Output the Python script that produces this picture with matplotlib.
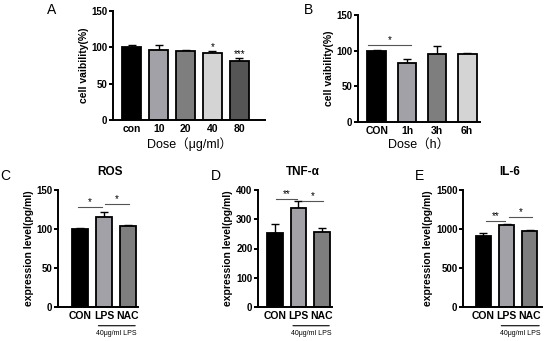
import matplotlib.pyplot as plt
import numpy as np

plt.rcParams['font.family'] = ['Liberation Sans', 'Noto Sans CJK SC', 'DejaVu Sans']

# panel A
a_labels = ['con', '10', '20', '40', '80']
a_vals = [100, 97, 95, 92, 81]
a_err = [3, 6, 1.5, 3.5, 5]
a_stars = ['', '', '', '*', '***']
# panel B
b_labels = ['CON', '1h', '3h', '6h']
b_vals = [100, 83, 95, 96]
b_err = [1, 6, 12, 1]
# panels C-E
cde_labels = ['CON', 'LPS', 'NAC']
ros_vals = [100, 116, 104]
ros_err = [1, 6, 1.5]
tnf_vals = [252, 340, 258]
tnf_err = [33, 22, 12]
il6_vals = [910, 1050, 980]
il6_err = [40, 20, 8]

c4 = ['#000000', '#a2a1a8', '#7e7e7e', '#d4d4d4', '#555555']

W, H = 550, 341
fig = plt.figure(figsize=(5.5, 3.41), dpi=100)


def make_ax(x0, x1, ytop, ybot):
    return fig.add_axes([x0 / W, 1 - ybot / H, (x1 - x0) / W, (ybot - ytop) / H])


def draw(ax, labels, vals, err, xlim, ymax, step, width, ylabel, colors):
    x = np.arange(len(vals))
    ax.bar(x, vals, width=width, color=colors, edgecolor='black', linewidth=1.3, zorder=2)
    ax.errorbar(x, vals, yerr=[np.zeros(len(err)), err], fmt='none', ecolor='black',
                elinewidth=1, capsize=3, capthick=1, zorder=1)
    ax.set_xlim(*xlim)
    ax.set_ylim(0, ymax)
    ax.set_yticks(np.arange(0, ymax + 1, step))
    ax.set_xticks(x)
    ax.set_xticklabels(labels, fontweight='bold', fontsize=7.5)
    for t in ax.get_yticklabels():
        t.set_fontweight('bold')
        t.set_fontsize(7)
    ax.spines['top'].set_visible(False)
    ax.spines['right'].set_visible(False)
    ax.spines['left'].set_linewidth(1.4)
    ax.spines['bottom'].set_linewidth(1.4)
    ax.tick_params(axis='y', width=1.4, length=3, pad=1)
    ax.tick_params(axis='x', length=0, pad=3)
    ax.set_ylabel(ylabel, fontweight='bold', fontsize=7.5, labelpad=2)


def sig(ax, x1, x2, y, text):
    ax.plot([x1, x2], [y, y], color='#555555', linewidth=0.8)
    ax.text((x1 + x2) / 2, y, text, ha='center', va='bottom', fontsize=7)


# A
axA = make_ax(113, 265, 11, 120)
draw(axA, a_labels, a_vals, a_err, (-0.7, 4.96), 150, 50, 0.7, 'cell vaibility(%)', c4)
for i, s in enumerate(a_stars):
    if s:
        axA.text(i, a_vals[i] + a_err[i] - 2, s, ha='center', va='bottom', fontsize=7)
axA.set_xlabel('Dose（μg/ml）', fontsize=9, labelpad=2)
fig.text(52 / W, 1 - 10 / H, 'A', fontsize=10, ha='center', va='center')

# B
axB = make_ax(358, 480, 15, 122)
draw(axB, b_labels, b_vals, b_err, (-0.63, 3.43), 150, 50, 0.63, 'cell vaibility(%)', c4[:4])
sig(axB, -0.3, 1.15, 108, '*')
axB.set_xlabel('Dose（h）', fontsize=9, labelpad=2)
fig.text(308 / W, 1 - 10 / H, 'B', fontsize=10, ha='center', va='center')

# C, D, E
panels = [
    (58, 138, 0.92, 0.42, ros_vals, ros_err, 150, 50, 'ROS', 'C', 5, 110,
     [(-0.1, 0.9, 128, '*'), (1.05, 2.05, 132, '*')]),
    (258, 332, 0.72, 0.43, tnf_vals, tnf_err, 400, 100, 'TNF-α', 'D', 216, 303,
     [(0.05, 0.95, 370, '**'), (1.15, 2.05, 362, '*')]),
    (463, 542, 0.89, 0.54, il6_vals, il6_err, 1500, 500, 'IL-6', 'E', 420, 510,
     [(0.1, 0.95, 1100, '**'), (1.1, 2.1, 1150, '*')]),
]
for x0, x1, off, end, vals, err, ymax, step, title, letter, lx, tx, sigs in panels:
    ax = make_ax(x0, x1, 190, 307)
    draw(ax, cde_labels, vals, err, (-off, 2 + end), ymax, step, 0.67,
         'expression level(pg/ml)', c4[:3])
    for s in sigs:
        sig(ax, *s)
    # bracket under LPS / NAC
    ax.annotate('', xy=(0.65, -0.16), xytext=(2 + end, -0.16),
                xycoords=('data', 'axes fraction'), textcoords=('data', 'axes fraction'),
                arrowprops=dict(arrowstyle='-', color='black', linewidth=0.8),
                annotation_clip=False)
    ax.text((0.65 + 2 + end) / 2, -0.2, '40μg/ml LPS', fontsize=5,
            transform=ax.get_xaxis_transform(), ha='center', va='top')
    fig.text(tx / W, 1 - 172 / H, title, fontsize=8.5, fontweight='bold',
             ha='center', va='center')
    fig.text(lx / W, 1 - 176 / H, letter, fontsize=10, ha='center', va='center')

fig.savefig('out.png', dpi=100)
